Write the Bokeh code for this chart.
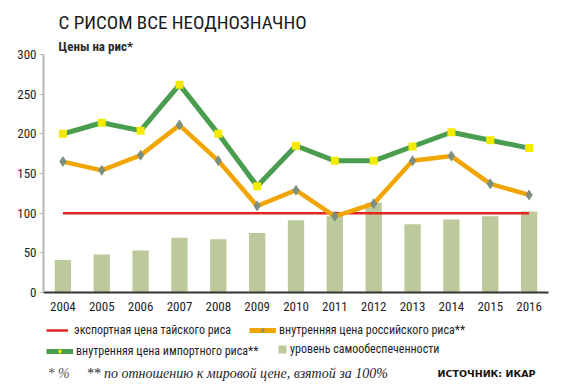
from bokeh.plotting import figure
from bokeh.layouts import column
from bokeh.models import Legend, LegendItem, Title, Label, FixedTicker, Range1d
from bokeh.embed import file_html
from bokeh.resources import INLINE

# ---- data ----
years = [2004, 2005, 2006, 2007, 2008, 2009, 2010, 2011, 2012, 2013, 2014, 2015, 2016]
thai_export = [100, 100, 100, 100, 100, 100, 100, 100, 100, 100, 100, 100, 100]
russian_price = [165, 154, 173, 211, 166, 109, 129, 96, 112, 166, 172, 137, 123]
import_price = [200, 214, 204, 262, 200, 134, 185, 166, 166, 184, 202, 192, 182]
self_sufficiency = [41, 48, 53, 69, 67, 75, 91, 96, 113, 86, 92, 96, 102]
y_ticks = [0, 50, 100, 150, 200, 250, 300]

title_text = "С РИСОМ ВСЕ НЕОДНОЗНАЧНО"
subtitle_text = "Цены на рис*"
lbl_thai = "экспортная цена тайского риса"
lbl_rus = "внутренняя цена российского риса**"
lbl_imp = "внутренняя цена импортного риса**"
lbl_self = "уровень самообеспеченности"
note1 = "* %"
note2 = "** по отношению к мировой цене, взятой за 100%"
source = "ИСТОЧНИК: ИКАР"

FONT = "Roboto Condensed"
C_RED, C_ORANGE, C_DIAMOND = "#e3261f", "#f0a500", "#7b8f80"
C_GREEN, C_YELLOW, C_BAR = "#4a9d4f", "#f2ea00", "#bcc99b"

# ---- main chart ----
p = figure(width=563, height=318, output_backend="svg", toolbar_location=None,
           x_range=Range1d(2003.5, 2016.5), y_range=Range1d(0, 300),
           min_border_left=43, min_border_right=15, min_border_top=54,
           min_border_bottom=26, outline_line_color=None,
           background_fill_color="white", border_fill_color="white")
p.grid.visible = False
p.vbar(x=years, top=self_sufficiency, width=0.42, fill_color=C_BAR, line_color=None)
p.line(years, thai_export, line_color=C_RED, line_width=2.5)
p.line(years, russian_price, line_color=C_ORANGE, line_width=4.5)
p.scatter(years, russian_price, marker="diamond", size=11, fill_color=C_DIAMOND, line_color=None)
p.line(years, import_price, line_color=C_GREEN, line_width=5)
p.scatter(years, import_price, marker="square", size=8, fill_color=C_YELLOW, line_color=None)

p.yaxis.ticker = FixedTicker(ticks=y_ticks)
p.yaxis.axis_line_color = "#b5b5b5"
p.yaxis.axis_line_width = 2
p.yaxis.major_tick_line_color = "#b5b5b5"
p.yaxis.major_tick_out = 4
p.yaxis.major_tick_in = 0
p.yaxis.minor_tick_line_color = None
p.yaxis.major_label_standoff = 3
p.xaxis.ticker = FixedTicker(ticks=years)
p.xaxis.axis_line_color = "#333333"
p.xaxis.axis_line_width = 2
p.xaxis.major_tick_line_color = None
p.xaxis.minor_tick_line_color = None
p.xaxis.major_label_standoff = 3
for ax in (p.xaxis, p.yaxis):
    ax.major_label_text_font = FONT
    ax.major_label_text_font_size = "13px"
    ax.major_label_text_color = "#1e1e28"

p.add_layout(Title(text=subtitle_text, text_font=FONT, text_font_size="13px",
                   text_font_style="bold", text_color="#2a2a2a", align="left",
                   offset=15, standoff=2), "above")
p.add_layout(Title(text=title_text, text_font=FONT, text_font_size="19px",
                   text_font_style="normal", text_color="#1a1a1a", align="left",
                   offset=15, standoff=3), "above")

# ---- legend / footnote strip (its frame is aligned with the chart's frame) ----
lf = figure(width=563, height=74, output_backend="svg", toolbar_location=None,
            x_range=Range1d(0, 1), y_range=Range1d(0, 1),
            x_axis_location=None, y_axis_location=None,
            min_border_left=0, min_border_right=0, min_border_top=0, min_border_bottom=0,
            outline_line_color=None, background_fill_color="white",
            border_fill_color="white")
lf.grid.visible = False
# hidden copies of the series: they only supply the legend glyph styles
r = lf.line(years, thai_export, line_color=C_RED, line_width=2.5, visible=False)
o = lf.line(years, russian_price, line_color=C_ORANGE, line_width=5, visible=False)
om = lf.scatter(years, russian_price, marker="diamond", size=11, fill_color=C_DIAMOND,
                line_color=None, visible=False)
g = lf.line(years, import_price, line_color=C_GREEN, line_width=5, visible=False)
gm = lf.scatter(years, import_price, marker="diamond", size=11, fill_color=C_YELLOW,
                line_color=None, visible=False)
b = lf.vbar(x=years, top=self_sufficiency, width=0.42, fill_color=C_BAR, line_color=None,
            visible=False)


def make_legend(label, renderers, loc, gw, gh, standoff):
    leg = Legend(items=[LegendItem(label=label, renderers=renderers)], location=loc,
                 orientation="horizontal", glyph_width=gw, glyph_height=gh,
                 label_height=gh, label_standoff=standoff, padding=0, margin=0,
                 border_line_color=None, background_fill_alpha=0,
                 inactive_fill_alpha=0,
                 label_text_font=FONT, label_text_font_size="12px",
                 label_text_color="#1e1e28")
    lf.add_layout(leg, "center")


make_legend(lbl_thai, [r], (3, 55), 22, 14, 6)
make_legend(lbl_rus, [o, om], (206, 55), 27, 14, 3)
make_legend(lbl_imp, [g, gm], (3, 34), 27, 14, 3)
make_legend(lbl_self, [b], (234, 36), 10, 10, 3)

lf.add_layout(Label(x=4, y=19, x_units="screen", y_units="screen", text=note1,
                    text_font="Liberation Serif", text_font_size="14px",
                    text_font_style="italic", text_color="#555555", text_baseline="middle"))
lf.add_layout(Label(x=43, y=19, x_units="screen", y_units="screen", text=note2,
                    text_font="Liberation Serif", text_font_size="14px",
                    text_font_style="italic", text_color="#1e1e28", text_baseline="middle"))
lf.add_layout(Label(x=492, y=19, x_units="screen", y_units="screen", text=source,
                    text_font="DejaVu Sans", text_font_size="9.5px", text_font_style="bold",
                    text_color="#111111", text_baseline="middle", text_align="right"))

page = column(p, lf, spacing=0)
open("out.html", "w").write(file_html(page, INLINE))
